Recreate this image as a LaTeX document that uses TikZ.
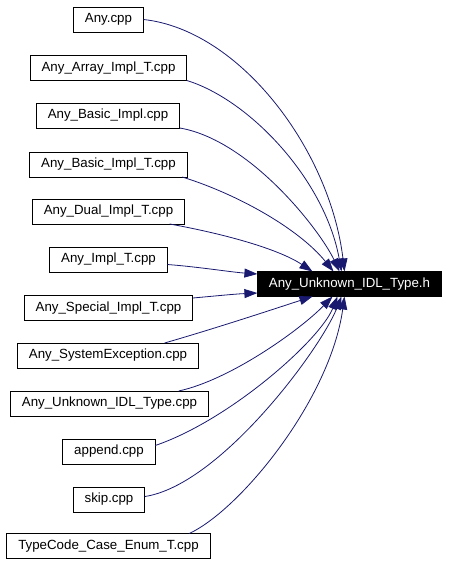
\documentclass[tikz,border=0pt]{standalone}
\usepackage{fontspec}
\setmainfont{Liberation Sans}
\usetikzlibrary{arrows.meta}
\definecolor{edgeblue}{HTML}{191970}

\begin{document}
\begin{tikzpicture}[x=1pt,y=-1pt,
  file/.style={draw=black,fill=white,line width=0.9pt,inner xsep=11.5pt,inner ysep=0pt,minimum height=25pt,outer sep=0pt,font=\fontsize{13.3}{16}\selectfont},
  header/.style={file,fill=black,text=white},
  dep/.style={draw=edgeblue,line width=0.8pt,-{Triangle[length=13pt,width=9pt]}}]
\useasboundingbox (0,0) rectangle (448,565);
\node[header] (unknownh) at (349.5,284) {Any\_Unknown\_IDL\_Type.h};

\node[file] (any) at (108.5,19.5) {Any.cpp};
\node[file] (arrayimpl) at (108.5,68) {Any\_Array\_Impl\_T.cpp};
\node[file] (basicimpl) at (108,115.5) {Any\_Basic\_Impl.cpp};
\node[file] (basicimplt) at (108.5,164.5) {Any\_Basic\_Impl\_T.cpp};
\node[file] (dualimpl) at (108.5,211.5) {Any\_Dual\_Impl\_T.cpp};
\node[file] (implt) at (108.5,259.5) {Any\_Impl\_T.cpp};
\node[file] (specialimpl) at (108.5,308) {Any\_Special\_Impl\_T.cpp};
\node[file] (sysexc) at (108,355.5) {Any\_SystemException.cpp};
\node[file] (unknowncpp) at (109.5,403.5) {Any\_Unknown\_IDL\_Type.cpp};
\node[file] (append) at (109,451.5) {append.cpp};
\node[file] (skip) at (109,499.5) {skip.cpp};
\node[file] (typecode) at (108.5,546) {TypeCode\_Case\_Enum\_T.cpp};

% edges above the header
\draw[dep] (any.east) .. controls (240,30) and (330,150) .. ([xshift=-5pt]unknownh.north);
\draw[dep] (arrayimpl.south east) .. controls (250,100) and (325,180) .. ([xshift=-8pt]unknownh.north);
\draw[dep] (basicimpl.south east) .. controls (250,140) and (320,230) .. ([xshift=-10pt]unknownh.north);
\draw[dep] ([xshift=-5pt]basicimplt.south east) .. controls (240,195) and (300,230) .. ([xshift=-16pt]unknownh.north);
\draw[dep] ([xshift=-15pt]dualimpl.south east) .. controls (230,235) and (280,250) .. ([xshift=-37pt]unknownh.north);
\draw[dep] ([yshift=-5pt]implt.east) .. controls (200,267) and (230,272) .. ([yshift=10pt]unknownh.west);
\draw[dep] ([yshift=10pt]specialimpl.east) .. controls (215,296) and (235,294) .. ([yshift=-9pt]unknownh.west);

% edges below the header
\draw[dep] ([xshift=-34pt]sysexc.north east) .. controls (220,327) and (280,307) .. ([xshift=-37pt]unknownh.south);
\draw[dep] ([xshift=-30pt]unknowncpp.north east) .. controls (230,380) and (300,330) .. ([xshift=-17pt]unknownh.south);
\draw[dep] ([yshift=6pt]append.east) .. controls (230,420) and (320,340) .. ([xshift=-12pt]unknownh.south);
\draw[dep] ([yshift=3pt]skip.east) .. controls (220,485) and (320,350) .. ([xshift=-8pt]unknownh.south);
\draw[dep] ([xshift=-21pt]typecode.north east) .. controls (240,510) and (330,400) .. ([xshift=-5pt]unknownh.south);

\end{tikzpicture}
\end{document}
